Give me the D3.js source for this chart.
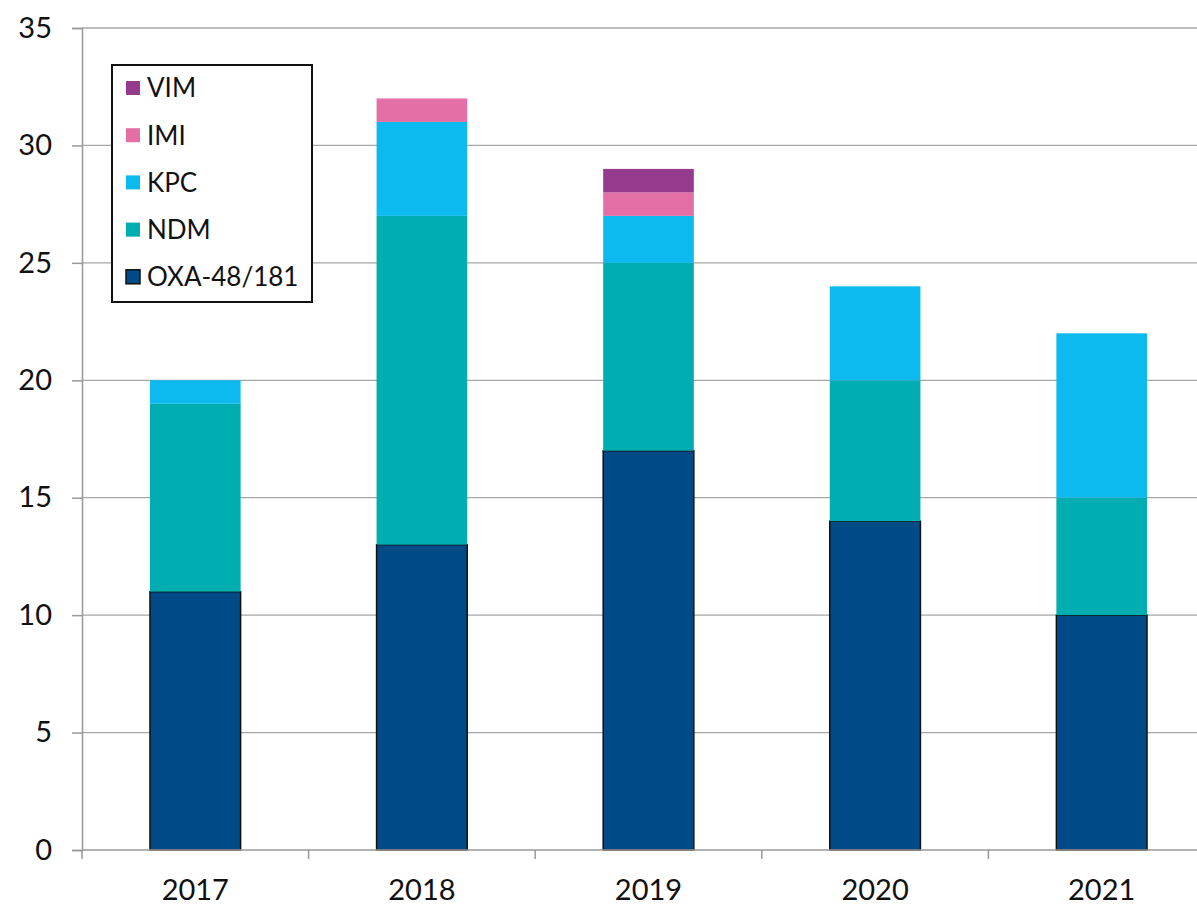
<!DOCTYPE html>
<html>
<head>
<meta charset="utf-8">
<script src="https://cdn.jsdelivr.net/npm/d3@7"></script>
<style>
  body { margin: 0; background: #fff; }
  text { font-family: "Lato", "DejaVu Sans", sans-serif; fill: #111; }
</style>
</head>
<body>
<div id="chart"></div>
<script>
// data
var years = ["2017", "2018", "2019", "2020", "2021"];
var oxa = [11, 13, 17, 14, 10];
var ndm = [8, 14, 8, 6, 5];
var kpc = [1, 4, 2, 4, 7];
var imi = [0, 1, 1, 0, 0];
var vim = [0, 0, 1, 0, 0];
var yTicks = [0, 5, 10, 15, 20, 25, 30, 35];

var seriesNames = ["OXA-48/181", "NDM", "KPC", "IMI", "VIM"];
var seriesColors = ["#004a87", "#00adb1", "#0dbaf0", "#e46fa6", "#953a8c"];
var seriesValues = [oxa, ndm, kpc, imi, vim];

var rows = years.map(function (y, i) {
    var r = { year: y };
    seriesNames.forEach(function (s, j) { r[s] = seriesValues[j][i]; });
    return r;
});

var W = 1197, H = 905;
var margin = { top: 28, left: 82 },
    plotW = 1133, plotH = 822;

var svg = d3.select("#chart").append("svg")
    .attr("width", W).attr("height", H);

var g = svg.append("g")
    .attr("transform", "translate(" + margin.left + "," + margin.top + ")");

var x = d3.scaleBand()
    .domain(years)
    .range([0, plotW])
    .paddingInner(0.6)
    .paddingOuter(0.3);

var y = d3.scaleLinear()
    .domain([0, 35])
    .range([plotH, 0]);

// gridlines
g.selectAll(".grid")
    .data(yTicks.filter(function (d) { return d > 0; }))
    .enter().append("line")
    .attr("x1", 0).attr("x2", plotW)
    .attr("y1", function (d) { return y(d); })
    .attr("y2", function (d) { return y(d); })
    .attr("stroke", "#a6a6a6")
    .attr("stroke-width", 1.3);

// stacked bars
var stack = d3.stack().keys(seriesNames)(rows);

g.selectAll(".layer")
    .data(stack)
    .enter().append("g")
    .attr("fill", function (d, i) { return seriesColors[i]; })
    .each(function (layer, i) {
        d3.select(this).selectAll("rect")
            .data(layer.filter(function (d) { return d[1] > d[0]; }))
            .enter().append("rect")
            .attr("x", function (d) { return x(d.data.year); })
            .attr("y", function (d) { return y(d[1]); })
            .attr("width", x.bandwidth())
            .attr("height", function (d) { return y(d[0]) - y(d[1]); })
            .attr("stroke", i === 0 ? "#111" : "none")
            .attr("stroke-width", i === 0 ? 1.5 : 0);
    });

// y axis
var yAxis = g.append("g")
    .call(d3.axisLeft(y).tickValues(yTicks).tickSize(10).tickPadding(20));
yAxis.select(".domain").attr("stroke", "#999").attr("stroke-width", 1.5);
yAxis.selectAll(".tick line").attr("stroke", "#999").attr("stroke-width", 1.5);
yAxis.selectAll("text").style("font-size", "29px").attr("fill", "#111");

// x axis with ticks on the category boundaries
var xAxis = g.append("g").attr("transform", "translate(0," + plotH + ")");
xAxis.append("line")
    .attr("x1", 0).attr("x2", plotW)
    .attr("stroke", "#999").attr("stroke-width", 1.5);
xAxis.selectAll(".xtick")
    .data(d3.range(years.length + 1))
    .enter().append("line")
    .attr("x1", function (i) { return i * x.step(); })
    .attr("x2", function (i) { return i * x.step(); })
    .attr("y1", 0).attr("y2", 9)
    .attr("stroke", "#999").attr("stroke-width", 1.5);
xAxis.selectAll(".xlabel")
    .data(years)
    .enter().append("text")
    .attr("x", function (d) { return x(d) + x.bandwidth() / 2; })
    .attr("y", 50)
    .attr("text-anchor", "middle")
    .style("font-size", "29px")
    .text(function (d) { return d; });

// legend
var legend = svg.append("g").attr("transform", "translate(112,65)");
legend.append("rect")
    .attr("width", 200).attr("height", 237)
    .attr("fill", "#fff").attr("stroke", "#111").attr("stroke-width", 2);

var legendOrder = d3.range(seriesNames.length).reverse();
legend.selectAll(".item")
    .data(legendOrder)
    .enter().append("g")
    .attr("transform", function (d, k) { return "translate(14," + (23 + k * 47.2) + ")"; })
    .each(function (i) {
        var it = d3.select(this);
        it.append("rect")
            .attr("x", 0).attr("y", -7)
            .attr("width", 14).attr("height", 14)
            .attr("fill", seriesColors[i])
            .attr("stroke", i === 0 ? "#111" : "none")
            .attr("stroke-width", 1.5);
        it.append("text")
            .attr("x", 21).attr("y", 0)
            .attr("dy", "0.36em")
            .style("font-size", "26px")
            .text(seriesNames[i]);
    });
</script>
</body>
</html>
